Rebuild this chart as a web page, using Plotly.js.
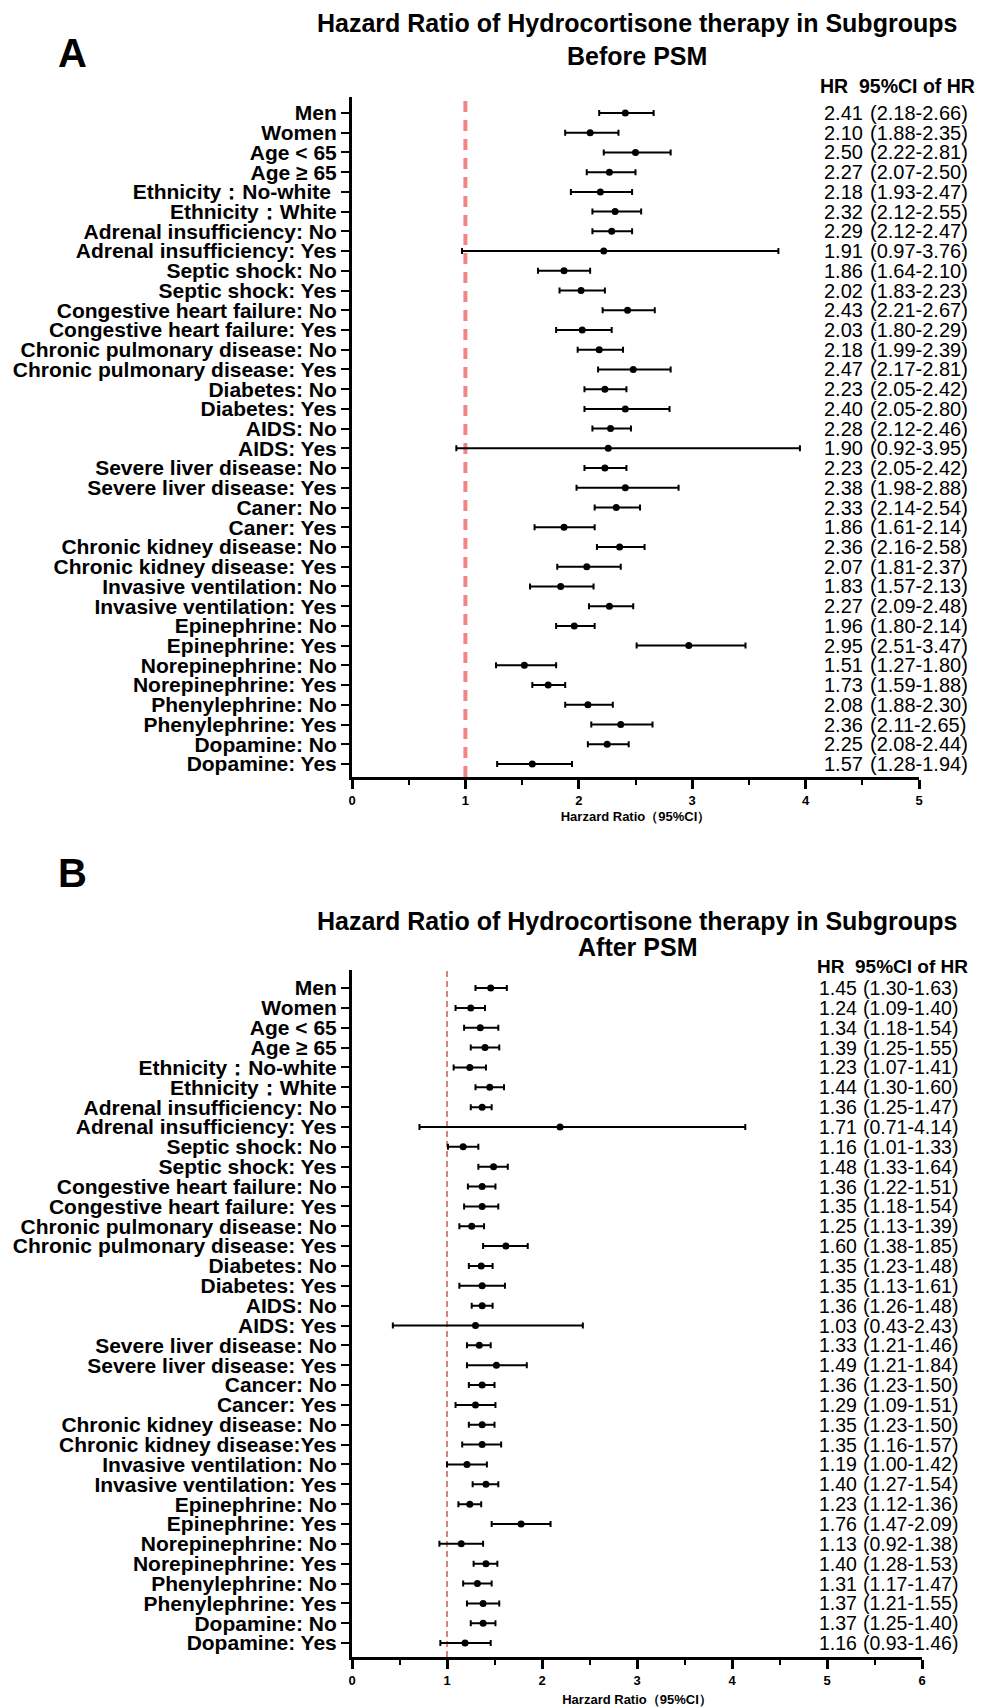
<!DOCTYPE html>
<html>
<head>
<meta charset="utf-8">
<script src="https://cdn.plot.ly/plotly-3.0.1.min.js"></script>
<style>html,body{margin:0;padding:0;background:#fff;}#chart{width:983px;height:1707px;}</style>
</head>
<body>
<div id="chart"></div>
<script>
// ---------- Panel A (Before PSM) ----------
const labelsA = ["Men","Women","Age < 65","Age \u2265 65","Ethnicity\uFF1ANo-white\u00a0","Ethnicity\uFF1AWhite",
  "Adrenal insufficiency: No","Adrenal insufficiency: Yes","Septic shock: No","Septic shock: Yes",
  "Congestive heart failure: No","Congestive heart failure: Yes","Chronic pulmonary disease: No","Chronic pulmonary disease: Yes",
  "Diabetes: No","Diabetes: Yes","AIDS: No","AIDS: Yes","Severe liver disease: No","Severe liver disease: Yes",
  "Caner: No","Caner: Yes","Chronic kidney disease: No","Chronic kidney disease: Yes",
  "Invasive ventilation: No","Invasive ventilation: Yes","Epinephrine: No","Epinephrine: Yes",
  "Norepinephrine: No","Norepinephrine: Yes","Phenylephrine: No","Phenylephrine: Yes","Dopamine: No","Dopamine: Yes"];
// plotted point estimates and CI bounds (read from the marks)
const estA = [2.41,2.10,2.50,2.27,2.19,2.32,2.29,2.22,1.87,2.02,2.43,2.03,2.18,2.48,2.23,2.41,2.28,2.26,2.23,2.41,2.33,1.87,2.36,2.07,1.84,2.27,1.96,2.97,1.52,1.73,2.08,2.37,2.25,1.59];
const lowA = [2.18,1.88,2.22,2.07,1.93,2.12,2.12,0.97,1.64,1.83,2.21,1.80,1.99,2.17,2.05,2.05,2.12,0.92,2.05,1.98,2.14,1.61,2.16,1.81,1.57,2.09,1.80,2.51,1.27,1.59,1.88,2.11,2.08,1.28];
const highA = [2.66,2.35,2.81,2.50,2.47,2.55,2.47,3.76,2.10,2.23,2.67,2.29,2.39,2.81,2.42,2.80,2.46,3.95,2.42,2.88,2.54,2.14,2.58,2.37,2.13,2.48,2.14,3.47,1.80,1.88,2.30,2.65,2.44,1.94];
// printed text column
const hrTextA = ["2.41","2.10","2.50","2.27","2.18","2.32","2.29","1.91","1.86","2.02","2.43","2.03","2.18","2.47","2.23","2.40","2.28","1.90","2.23","2.38","2.33","1.86","2.36","2.07","1.83","2.27","1.96","2.95","1.51","1.73","2.08","2.36","2.25","1.57"];
const ciTextA = ["(2.18-2.66)","(1.88-2.35)","(2.22-2.81)","(2.07-2.50)","(1.93-2.47)","(2.12-2.55)","(2.12-2.47)","(0.97-3.76)","(1.64-2.10)","(1.83-2.23)","(2.21-2.67)","(1.80-2.29)","(1.99-2.39)","(2.17-2.81)","(2.05-2.42)","(2.05-2.80)","(2.12-2.46)","(0.92-3.95)","(2.05-2.42)","(1.98-2.88)","(2.14-2.54)","(1.61-2.14)","(2.16-2.58)","(1.81-2.37)","(1.57-2.13)","(2.09-2.48)","(1.80-2.14)","(2.51-3.47)","(1.27-1.80)","(1.59-1.88)","(1.88-2.30)","(2.11-2.65)","(2.08-2.44)","(1.28-1.94)"];

// ---------- Panel B (After PSM) ----------
const labelsB = ["Men","Women","Age < 65","Age \u2265 65","Ethnicity\uFF1ANo-white","Ethnicity\uFF1AWhite",
  "Adrenal insufficiency: No","Adrenal insufficiency: Yes","Septic shock: No","Septic shock: Yes",
  "Congestive heart failure: No","Congestive heart failure: Yes","Chronic pulmonary disease: No","Chronic pulmonary disease: Yes",
  "Diabetes: No","Diabetes: Yes","AIDS: No","AIDS: Yes","Severe liver disease: No","Severe liver disease: Yes",
  "Cancer: No","Cancer: Yes","Chronic kidney disease: No","Chronic kidney disease:Yes",
  "Invasive ventilation: No","Invasive ventilation: Yes","Epinephrine: No","Epinephrine: Yes",
  "Norepinephrine: No","Norepinephrine: Yes","Phenylephrine: No","Phenylephrine: Yes","Dopamine: No","Dopamine: Yes"];
const estB = [1.46,1.25,1.35,1.40,1.24,1.45,1.37,2.19,1.17,1.49,1.37,1.37,1.26,1.62,1.36,1.37,1.37,1.30,1.34,1.52,1.37,1.30,1.37,1.37,1.21,1.41,1.24,1.78,1.15,1.41,1.32,1.38,1.38,1.19];
const lowB = [1.30,1.09,1.18,1.25,1.07,1.30,1.25,0.71,1.01,1.33,1.22,1.18,1.13,1.38,1.23,1.13,1.26,0.43,1.21,1.21,1.23,1.09,1.23,1.16,1.00,1.27,1.12,1.47,0.92,1.28,1.17,1.21,1.25,0.93];
const highB = [1.63,1.40,1.54,1.55,1.41,1.60,1.47,4.14,1.33,1.64,1.51,1.54,1.39,1.85,1.48,1.61,1.48,2.43,1.46,1.84,1.50,1.51,1.50,1.57,1.42,1.54,1.36,2.09,1.38,1.53,1.47,1.55,1.51,1.46];
const hrTextB = ["1.45","1.24","1.34","1.39","1.23","1.44","1.36","1.71","1.16","1.48","1.36","1.35","1.25","1.60","1.35","1.35","1.36","1.03","1.33","1.49","1.36","1.29","1.35","1.35","1.19","1.40","1.23","1.76","1.13","1.40","1.31","1.37","1.37","1.16"];
const ciTextB = ["(1.30-1.63)","(1.09-1.40)","(1.18-1.54)","(1.25-1.55)","(1.07-1.41)","(1.30-1.60)","(1.25-1.47)","(0.71-4.14)","(1.01-1.33)","(1.33-1.64)","(1.22-1.51)","(1.18-1.54)","(1.13-1.39)","(1.38-1.85)","(1.23-1.48)","(1.13-1.61)","(1.26-1.48)","(0.43-2.43)","(1.21-1.46)","(1.21-1.84)","(1.23-1.50)","(1.09-1.51)","(1.23-1.50)","(1.16-1.57)","(1.00-1.42)","(1.27-1.54)","(1.12-1.36)","(1.47-2.09)","(0.92-1.38)","(1.28-1.53)","(1.17-1.47)","(1.21-1.55)","(1.25-1.40)","(0.93-1.46)"];

const xTicksA = [0,1,2,3,4,5];
const xTicksB = [0,1,2,3,4,5,6];

// ---------- build ----------
const W = 983, H = 1707;
const FONT = "Liberation Sans, Arial, Helvetica, sans-serif";
const px = v => v / W;
const py = v => 1 - v / H;

function forestTrace(est, lo, hi, xa, ya) {
  return {
    type: 'scatter', mode: 'markers', xaxis: xa, yaxis: ya,
    x: est, y: est.map((_, i) => i),
    marker: {color: '#000', size: 7},
    error_x: {type: 'data', symmetric: false,
      array: hi.map((h, i) => h - est[i]),
      arrayminus: lo.map((l, i) => est[i] - l),
      color: '#000', thickness: 2, width: 3},
    hoverinfo: 'skip', showlegend: false, cliponaxis: false
  };
}

function yAxis(labels, domain, range) {
  return {
    domain: domain, range: range, tickvals: labels.map((_, i) => i), ticktext: labels,
    showgrid: false, zeroline: false, showline: true, linecolor: '#000', linewidth: 3,
    ticks: 'outside', ticklen: 8, tickwidth: 2, tickcolor: '#000',
    tickfont: {family: FONT, size: 21, color: '#000', weight: 'bold'}, fixedrange: true
  };
}

function xAxis(domain, range, ticks, anchor, standoff) {
  return {
    domain: domain, range: range, anchor: anchor, tickvals: ticks, ticktext: ticks.map(String),
    showgrid: false, zeroline: false, showline: true, linecolor: '#000', linewidth: 3,
    ticks: 'outside', ticklen: 9, tickwidth: 3, tickcolor: '#000',
    minor: {dtick: 0.5, tick0: 0, ticks: 'outside', ticklen: 5, tickwidth: 2, tickcolor: '#000', showgrid: false},
    tickfont: {family: FONT, size: 13, color: '#000', weight: 'bold'},
    title: {text: 'Harzard Ratio\uFF0895%CI\uFF09', font: {family: FONT, size: 13, color: '#000', weight: 'bold'}, standoff: standoff},
    fixedrange: true
  };
}

const data = [
  forestTrace(estA, lowA, highA, 'x', 'y'),
  forestTrace(estB, lowB, highB, 'x2', 'y2')
];

const annotations = [];
function textCol(hr, ci, ya, xHr, xCi, size) {
  hr.forEach((t, i) => {
    annotations.push({xref: 'paper', yref: ya, x: px(xHr), y: i, text: t, xanchor: 'left', yanchor: 'middle',
      showarrow: false, font: {family: FONT, size: size, color: '#000'}});
    annotations.push({xref: 'paper', yref: ya, x: px(xCi), y: i, text: ci[i], xanchor: 'left', yanchor: 'middle',
      showarrow: false, font: {family: FONT, size: size, color: '#000'}});
  });
}
textCol(hrTextA, ciTextA, 'y', 822, 868, 20);
textCol(hrTextB, ciTextB, 'y2', 817, 861, 19.5);

function label(text, x, y, size, anchor) {
  annotations.push({xref: 'paper', yref: 'paper', x: px(x), y: py(y), text: text, xanchor: anchor || 'center',
    yanchor: 'middle', showarrow: false, font: {family: FONT, size: size, color: '#000', weight: 'bold'}});
}
label('A', 72, 53, 40);
label('Hazard Ratio of Hydrocortisone therapy in Subgroups', 637, 23, 25);
label('Before PSM', 637, 56, 25);
label('HR\u00a0\u00a095%CI of HR', 818, 86, 19.5, 'left');
label('B', 72, 873, 40);
label('Hazard Ratio of Hydrocortisone therapy in Subgroups', 637, 921, 25);
label('After PSM', 637, 947, 25);
label('HR\u00a0\u00a095%CI of HR', 815, 966, 19, 'left');

const shapes = [
  {type: 'line', xref: 'x', yref: 'y domain', x0: 1, x1: 1, y0: 0, y1: 1,
   line: {color: '#EF8585', width: 4, dash: '11px,8px'}, layer: 'below'},
  {type: 'line', xref: 'x2', yref: 'y2 domain', x0: 1, x1: 1, y0: 0, y1: 1,
   line: {color: '#D9847C', width: 2, dash: '6px,4px'}, layer: 'below'}
];

const layout = {
  width: W, height: H, margin: {l: 0, r: 0, t: 0, b: 0, pad: 0},
  paper_bgcolor: '#fff', plot_bgcolor: '#fff', showlegend: false,
  font: {family: FONT, color: '#000'},
  xaxis: xAxis([px(352), px(919)], [0, 5], xTicksA, 'y', 6),
  yaxis: yAxis(labelsA, [py(777), py(97)], [33.66, -0.81]),
  xaxis2: xAxis([px(352), px(922)], [0, 6], xTicksB, 'y2', 12),
  yaxis2: yAxis(labelsB, [py(1657), py(970)], [33.7, -0.91]),
  annotations: annotations, shapes: shapes
};
layout.yaxis.anchor = 'x';
layout.yaxis2.anchor = 'x2';

Plotly.newPlot('chart', data, layout, {displayModeBar: false, staticPlot: true});
</script>
</body>
</html>
